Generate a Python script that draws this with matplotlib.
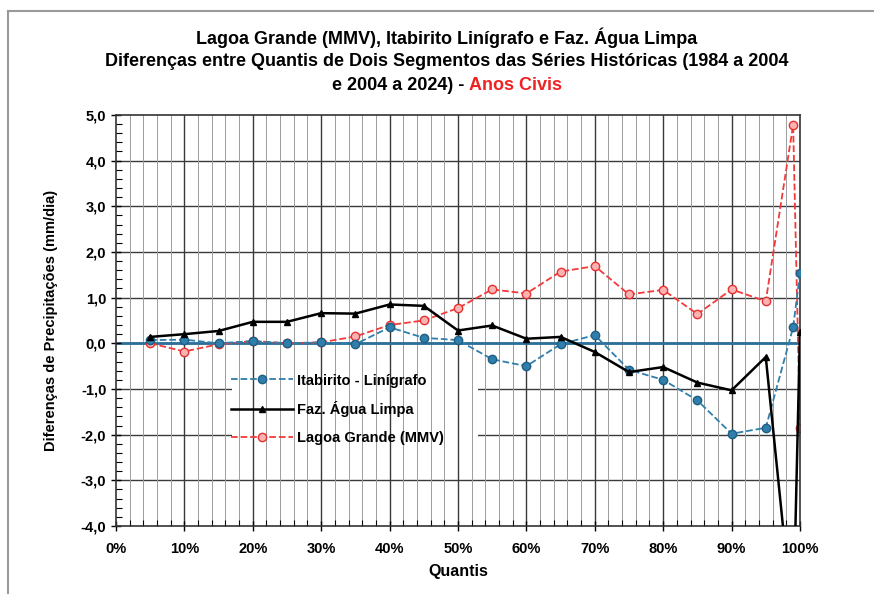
import matplotlib.pyplot as plt
from matplotlib.patches import Rectangle
from matplotlib.ticker import MultipleLocator, FuncFormatter
from matplotlib.lines import Line2D

# quantis (%) e diferencas de precipitacao (mm/dia)
quantis = [5, 10, 15, 20, 25, 30, 35, 40, 45, 50, 55, 60, 65, 70, 75, 80, 85, 90, 95, 99, 100]
itabirito = [0.07, 0.08, 0.0, 0.05, 0.0, 0.02, -0.02, 0.35, 0.12, 0.07, -0.35, -0.5, -0.02,
             0.18, -0.58, -0.8, -1.25, -1.98, -1.85, 0.35, 1.53]
faz_agua = [0.14, 0.2, 0.27, 0.47, 0.47, 0.66, 0.65, 0.85, 0.82, 0.28, 0.39, 0.1, 0.14,
            -0.19, -0.63, -0.52, -0.86, -1.03, -0.3, -6.2, 0.25]
lagoa = [0.0, -0.18, -0.02, 0.05, 0.0, 0.02, 0.15, 0.4, 0.5, 0.77, 1.18, 1.09, 1.57,
         1.69, 1.07, 1.17, 0.64, 1.18, 0.92, 4.78, -1.85]

plt.rcParams['font.family'] = ['Liberation Sans', 'DejaVu Sans']
plt.rcParams['font.weight'] = 'bold'

fig = plt.figure(figsize=(8.74, 5.94), dpi=100)
ax = fig.add_axes([0.1327, 0.1145, 0.7826, 0.692])

# moldura externa (so topo e esquerda aparecem)
fig.add_artist(Line2D([8/874, 1], [1-11/594, 1-11/594], color='#9a9a9a', lw=1.5))
fig.add_artist(Line2D([8/874, 8/874], [0, 1-11/594], color='#9a9a9a', lw=1.5))

ax.set_xlim(0, 100)
ax.set_ylim(-4, 5)

# grade: horizontais atras de um fundo branco na legenda, verticais por cima
for y in range(-3, 5):
    ax.axhline(y, color='#3a3a3a', lw=1.0, zorder=0.5)
ax.add_patch(Rectangle((0.17, 0.17), 0.36, 0.215, transform=ax.transAxes,
                       facecolor='white', edgecolor='none', zorder=0.7))
for x in range(2, 100, 2):
    if x % 10 == 0:
        ax.axvline(x, color='#3a3a3a', lw=1.0, zorder=0.8)
    else:
        ax.axvline(x, color='#9c9c9c', lw=0.7, zorder=0.8)

ax.axhline(0, color='#2b6f9a', lw=2, zorder=1)

ax.plot(quantis, itabirito, '--o', color='#2f7eab', lw=1.3, ms=6,
        mfc='#2f7eab', mec='#1f5f85', label='Itabirito - Linígrafo', zorder=3)
ax.plot(quantis, faz_agua, '-^', color='black', lw=1.8, ms=5,
        label='Faz. Água Limpa', zorder=4)
ax.plot(quantis, lagoa, '--o', color='#f23a3a', lw=1.3, ms=6,
        mfc='#f9b3b3', mec='#e83030', label='Lagoa Grande (MMV)', zorder=2)

ax.xaxis.set_major_locator(MultipleLocator(10))
ax.xaxis.set_minor_locator(MultipleLocator(2))
ax.yaxis.set_major_locator(MultipleLocator(1))
ax.yaxis.set_minor_locator(MultipleLocator(0.2))
ax.xaxis.set_major_formatter(FuncFormatter(lambda v, p: f'{v:.0f}%'))
ax.yaxis.set_major_formatter(FuncFormatter(lambda v, p: f'{v:.1f}'.replace('.', ',')))
ax.tick_params(which='major', direction='inout', length=7, width=1, labelsize=10.5)
ax.tick_params(axis='x', which='major', pad=8)
ax.tick_params(which='minor', direction='in', length=4, width=0.8)
for s in ax.spines.values():
    s.set_color('#333333')
    s.set_linewidth(1.2)

ax.set_xlabel('Quantis', fontsize=11.5, fontweight='bold', labelpad=6)
ax.set_ylabel('Diferenças de Precipitações (mm/dia)', fontsize=10.5, fontweight='bold', labelpad=16)

leg = ax.legend(loc='upper left', bbox_to_anchor=(0.16, 0.385), frameon=False,
                fontsize=10.5, handlelength=4.2, handletextpad=0.3,
                labelspacing=0.95, borderaxespad=0)

# titulo em tres linhas, ultima parte em vermelho
cx = 447 / 874
fs = 13
fig.text(cx, 1 - 38/594, 'Lagoa Grande (MMV), Itabirito Linígrafo e Faz. Água Limpa',
         ha='center', va='center', fontsize=fs, fontweight='bold')
fig.text(cx, 1 - 62/594, 'Diferenças entre Quantis de Dois Segmentos das Séries Históricas (1984 a 2004',
         ha='center', va='center', fontsize=fs, fontweight='bold')
t1 = fig.text(0, 1 - 86/594, 'e 2004 a 2024) - ', ha='left', va='center',
              fontsize=fs, fontweight='bold')
t2 = fig.text(0, 1 - 86/594, 'Anos Civis', ha='left', va='center',
              fontsize=fs, fontweight='bold', color='#ee2222')
r = fig.canvas.get_renderer()
w1 = t1.get_window_extent(r).width / fig.bbox.width
w2 = t2.get_window_extent(r).width / fig.bbox.width
x0 = cx - (w1 + w2) / 2
t1.set_x(x0)
t2.set_x(x0 + w1)

fig.savefig('out.png', dpi=100)
